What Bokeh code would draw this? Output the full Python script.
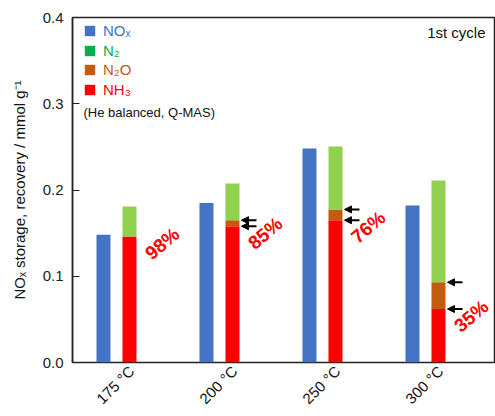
from math import pi
from bokeh.plotting import figure
from bokeh.models import (Range1d, Label, Arrow, NormalHead, Legend, LegendItem,
                          ColumnDataSource)
from bokeh.embed import file_html
from bokeh.resources import INLINE

# ---------------- data ----------------
temps = ["175 °C", "200 °C", "250 °C", "300 °C"]
nox = [0.148, 0.185, 0.248, 0.182]
nh3 = [0.146, 0.158, 0.165, 0.062]
n2o = [0.0, 0.007, 0.0125, 0.031]
n2 = [0.035, 0.0425, 0.073, 0.118]
recovery = [98, 85, 76, 35]
yticks = [0.0, 0.1, 0.2, 0.3, 0.4]

C_NOX = "#4472C4"
C_N2 = "#92D050"
C_N2_LEG = "#00B050"
C_N2O = "#C55A11"
C_NH3 = "#FF0000"
FONT = "Liberation Sans"

# ---------------- layout ----------------
W, H = 495, 416
ML, MR, MT, MB = 72, 1, 17, 54
FW, FH = W - ML - MR, H - MT - MB
PPX = 103.0
X0 = -0.427
X1 = X0 + FW / PPX
Y0, Y1 = 0.0, 0.4
PPY = FH / (Y1 - Y0)


def dx(px):
    """frame-relative pixel offset -> data x"""
    return X0 + px / PPX


def dy(px_from_top):
    """pixel offset from frame top -> data y"""
    return Y1 - px_from_top / PPY


p = figure(width=W, height=H, x_range=Range1d(X0, X1), y_range=Range1d(Y0, Y1),
           output_backend="svg", toolbar_location=None,
           min_border_left=ML, min_border_right=MR, min_border_top=MT,
           min_border_bottom=MB)
p.grid.visible = False
p.outline_line_color = "#222222"
p.outline_line_width = 1.5
p.background_fill_color = "white"
p.border_fill_color = "white"

# ---- y axis
ya = p.yaxis[0]
ya.ticker = yticks
ya.major_label_overrides = {t: f"{t:.1f}" for t in yticks}
ya.major_tick_in = 7
ya.major_tick_out = 0
ya.minor_tick_line_color = None
ya.axis_line_color = "#222222"
ya.axis_line_width = 1.5
ya.major_tick_line_color = "#222222"
ya.major_tick_line_width = 1
ya.major_label_standoff = 9
ya.major_label_text_font = FONT
ya.major_label_text_font_size = "15px"
ya.major_label_text_color = "#222222"
ya.axis_label = "NOₓ storage, recovery / mmol g⁻¹"
ya.axis_label_text_font = FONT
ya.axis_label_text_font_size = "15px"
ya.axis_label_text_font_style = "normal"
ya.axis_label_text_color = "#111111"
ya.axis_label_standoff = 12

# ---- x axis: rotated category labels (right end of text sits at the tick)
LAB_SHIFT = 0.146
xt = [i + LAB_SHIFT for i in range(len(temps))]
xa = p.xaxis[0]
xa.ticker = xt
xa.major_label_overrides = {t: lab for t, lab in zip(xt, temps)}
xa.major_label_orientation = pi / 4
xa.major_tick_line_color = None
xa.minor_tick_line_color = None
xa.axis_line_color = None
xa.major_tick_in = 0
xa.major_tick_out = 0
xa.major_label_standoff = 6
xa.major_label_text_font = FONT
xa.major_label_text_font_size = "15px"
xa.major_label_text_color = "#111111"

# ---- bars
OFF = 13 / PPX
BW = 14 / PPX
idx = list(range(len(temps)))
src = ColumnDataSource(dict(
    xb=[i - OFF for i in idx],
    xr=[i + OFF for i in idx],
    nox=nox, nh3=nh3, n2o=n2o, n2=n2,
))

p.vbar(x="xb", top="nox", width=BW, source=src, fill_color=C_NOX,
       line_color=None)
p.vbar_stack(["nh3", "n2o", "n2"], x="xr", width=BW, source=src,
             color=[C_NH3, C_N2O, C_N2], line_color=None)

# ---- legend (one legend per entry so each text takes its own colour)
leg_entries = [("NOₓ", C_NOX, 15), ("N₂", C_N2_LEG, 35),
               ("N₂O", C_N2O, 54), ("NH₃", C_NH3, 74)]
for lab, col, cy in leg_entries:
    dummy = ColumnDataSource(dict(x=[X0 - 5], top=[0.0]))
    r = p.vbar(x="x", top="top", width=0.1, source=dummy, fill_color=col,
               line_color=None)
    lg = Legend(items=[LegendItem(label=lab, renderers=[r])],
                location=(11, FH - cy - 6.5), glyph_width=13, glyph_height=13,
                label_height=13, label_standoff=7, padding=0, margin=0,
                spacing=0, border_line_color=None, background_fill_alpha=0,
                label_text_font=FONT, label_text_font_size="15px",
                label_text_color=col, label_text_baseline="middle")
    p.add_layout(lg)

p.add_layout(Label(x=dx(11), y=dy(95), text="(He balanced, Q-MAS)",
                   text_font=FONT, text_font_size="13px", text_color="#111111",
                   text_align="left", text_baseline="middle"))
p.add_layout(Label(x=X1 - 9 / PPX, y=dy(15), text="1st cycle",
                   text_font=FONT, text_font_size="15px", text_color="#111111",
                   text_align="right", text_baseline="middle"))

# ---- recovery percentages
for i, v in enumerate(recovery):
    p.add_layout(Label(x=i + 0.445, y=nh3[i] - 7 / PPY, text=f"{v}%",
                       angle=40, angle_units="deg", text_font=FONT,
                       text_font_style="bold", text_font_size="19px",
                       text_color=C_NH3, text_align="center",
                       text_baseline="middle"))

# ---- arrows at stack boundaries (where N2O present)
tip = OFF + BW / 2 + 2 / PPX
tail = tip + 15 / PPX
for i in idx:
    if n2o[i] > 0:
        for yv in (nh3[i], nh3[i] + n2o[i]):
            p.add_layout(Arrow(x_start=i + tail, x_end=i + tip, y_start=yv,
                               y_end=yv, line_color="black", line_width=2,
                               end=NormalHead(size=7, fill_color="black",
                                              line_color="black")))

open("out.html", "w").write(file_html(p, INLINE))
